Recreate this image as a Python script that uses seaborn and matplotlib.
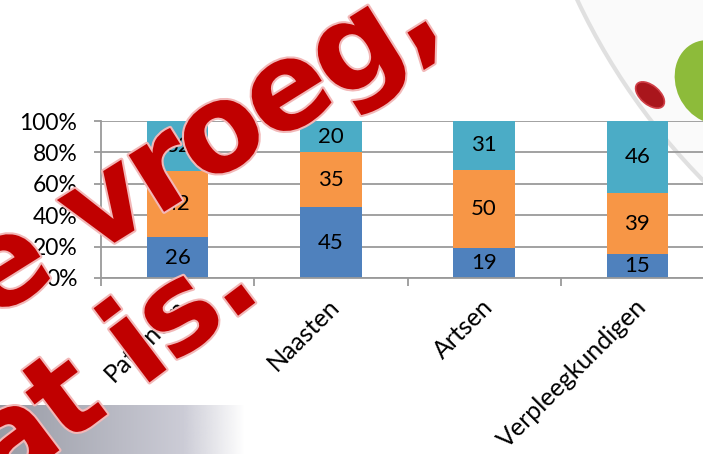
import numpy as np
import pandas as pd
import matplotlib
matplotlib.use("Agg")
import matplotlib.pyplot as plt
import matplotlib.transforms as mtransforms
from matplotlib import patheffects as pe
from matplotlib.patches import Ellipse, Circle
from matplotlib.font_manager import FontProperties
from matplotlib.textpath import TextToPath
import seaborn as sns

# Survey groups and their three answer shares (percent, stacked bottom to top)
groups = ["Patiënten", "Naasten", "Artsen", "Verpleegkundigen"]
share_low = [26, 45, 19, 15]
share_mid = [42, 35, 50, 39]
share_high = [32, 20, 31, 46]
segment_colors = ["#4F81BD", "#F79646", "#4BACC6"]

y_ticks = [0, 20, 40, 60, 80, 100]
y_tick_labels = ["0%", "20%", "40%", "60%", "80%", "100%"]

# Slide title fragments laid over the chart
title_line_1 = "e vroeg,"
title_line_2 = "at is."

sns.set_theme(style="white")
plt.rcParams["font.family"] = ["Lato", "DejaVu Sans"]

W, H = 703, 454
DPI = 100
fig = plt.figure(figsize=(W / DPI, H / DPI), dpi=DPI)
fig.patch.set_facecolor("white")

# ---- slide background decorations (pixel coordinates, y pointing down) ----
bg = fig.add_axes([0, 0, 1, 1], zorder=-1)
bg.set_xlim(0, W)
bg.set_ylim(H, 0)
bg.axis("off")

# light logo disc in the upper right
bg.add_patch(Circle((1174, -282), 660, facecolor="#fafafa", edgecolor="#e0e0e0", lw=3))
bg.add_patch(Ellipse((650, 95), 34, 19, angle=40, facecolor="#A9161C", edgecolor="#D04048", lw=1.2))
bg.add_patch(Ellipse((712, 82), 72, 86, angle=-25, facecolor="#8DBB3A", edgecolor="none"))

# grey gradient band in the lower left
xs = np.linspace(0, 1, 300)
base = np.array([0.60, 0.61, 0.65])
light = np.array([0.80, 0.80, 0.84])
mix = np.clip(xs / 0.75, 0, 1)[:, None]
cols = base * (1 - mix) + light * mix
alpha = np.clip((1 - xs) / 0.25, 0, 1)
rgba = np.concatenate([cols, alpha[:, None]], axis=1)[None, :, :]
rgba = np.repeat(rgba, 10, axis=0)
bg.imshow(rgba, extent=[0, 245, H, 405], aspect="auto", interpolation="bilinear")

# ---- stacked percentage bars ----
ax = fig.add_axes([101 / W, (H - 278) / H, 613 / W, 157 / H], zorder=0)
ax.set_facecolor("none")

df = pd.DataFrame({"groep": groups, "laag": share_low, "midden": share_mid, "hoog": share_high})
bottoms = [np.zeros(len(groups)), np.array(share_low), np.array(share_low) + np.array(share_mid)]
for col, bottom, color in zip(["laag", "midden", "hoog"], bottoms, segment_colors):
    sns.barplot(data=df, x="groep", y=col, bottom=bottom, color=color, saturation=1,
                width=0.4, edgecolor="none", linewidth=0, ax=ax)

for cont, col in zip(ax.containers, ["laag", "midden", "hoog"]):
    ax.bar_label(cont, labels=[str(v) for v in df[col]], label_type="center",
                 fontsize=16, color="black")

grid_color = "#9a9a9a"
ax.set_xlim(-0.5, 3.5)
ax.set_ylim(0, 100)
ax.set_yticks(y_ticks)
ax.set_yticklabels(y_tick_labels)
ax.yaxis.grid(True, color=grid_color, lw=1.3)
ax.set_axisbelow(True)
ax.set_xlabel("")
ax.set_ylabel("")

for side in ["top", "right"]:
    ax.spines[side].set_visible(False)
for side in ["left", "bottom"]:
    ax.spines[side].set_color(grid_color)
    ax.spines[side].set_linewidth(1.3)

ax.tick_params(axis="y", length=5, width=1.3, color=grid_color, pad=12, labelsize=16.5,
               labelcolor="black", left=True)
ax.set_xticks(range(len(groups)))
ax.set_xticklabels(groups)
ax.set_xticks(np.arange(-0.5, len(groups), 1), minor=True)
ax.tick_params(axis="x", which="major", length=0, pad=18, labelsize=18, labelcolor="black")
ax.tick_params(axis="x", which="minor", length=6, width=1.3, color=grid_color, bottom=True)

shift = mtransforms.ScaledTranslation(5 / DPI, 0, fig.dpi_scale_trans)
for lab in ax.get_xticklabels():
    lab.set_rotation(45)
    lab.set_ha("right")
    lab.set_va("center")
    lab.set_rotation_mode("anchor")
    lab.set_transform(lab.get_transform() + shift)

# ---- slide title text running diagonally across the chart ----
title_size = 88
title_prop = FontProperties(family="DejaVu Sans", weight="bold", size=title_size)
ttp = TextToPath()


def advance_px(ch):
    """Horizontal advance of one glyph, in output pixels."""
    w1 = ttp.get_text_width_height_descent("H" + ch + "H", title_prop, ismath=False)[0]
    w0 = ttp.get_text_width_height_descent("HH", title_prop, ismath=False)[0]
    return (w1 - w0) * DPI / 72


def draw_slanted(text, anchor_idx, anchor_xy, angle, tracking=0.95):
    """Set text letter by letter along a straight slanted baseline."""
    adv = np.array([advance_px(c) for c in text]) * tracking
    centers = np.cumsum(adv) - adv / 2
    rad = np.deg2rad(angle)
    direction = np.array([np.cos(rad), -np.sin(rad)])
    outline = [pe.withStroke(linewidth=3, foreground="#F2B8B8")]
    for ch, s in zip(text, centers):
        if ch == " ":
            continue
        px, py = np.array(anchor_xy) + (s - centers[anchor_idx]) * direction
        fig.text(px / W, 1 - py / H, ch, rotation=angle, rotation_mode="anchor",
                 ha="center", va="baseline", fontproperties=title_prop,
                 color="#C00000", path_effects=outline, zorder=10)


draw_slanted(title_line_1, 4, (239, 165), 32)
draw_slanted(title_line_2, 3, (158, 376), 37)

fig.savefig("out.png", dpi=DPI, facecolor="white")
